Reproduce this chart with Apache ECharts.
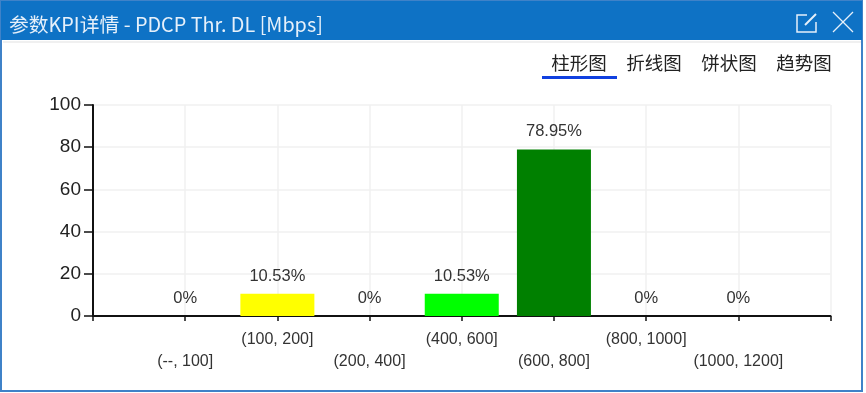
<!DOCTYPE html>
<html>
<head>
<meta charset="utf-8">
<style>
html, body { margin: 0; padding: 0; background: #fff; }
#chart { width: 866px; height: 393px; }
</style>
<script src="https://cdn.jsdelivr.net/npm/echarts@6/dist/echarts.min.js"></script>
</head>
<body>
<div id="chart"></div>
<script>
const titleText = '参数KPI详情 - PDCP Thr. DL [Mbps]';
const tabs = ['柱形图', '折线图', '饼状图', '趋势图'];
// blank first and last entries leave the half-band gaps at both ends of the axis
const categories = ['', '(--, 100]', '(100, 200]', '(200, 400]', '(400, 600]', '(600, 800]', '(800, 1000]', '(1000, 1200]', ''];
const percents = [null, 0, 10.53, 0, 10.53, 78.95, 0, 0, null];
const barColors = ['#fff', '#fff', '#ffff00', '#fff', '#00ff00', '#008000', '#fff', '#fff', '#fff'];
const yTicks = [0, 20, 40, 60, 80, 100];

const cjkFont = '"Noto Sans CJK SC", "Liberation Sans", sans-serif';
const tabX = [579, 654, 729, 804];

const chart = echarts.init(document.getElementById('chart'), null, { renderer: 'canvas' });

chart.setOption({
    animation: false,
    backgroundColor: '#fff',
    grid: { left: 93, right: 35.5, top: 105, bottom: 77 },
    xAxis: {
        type: 'category',
        data: categories,
        boundaryGap: false,
        axisLine: { lineStyle: { color: '#111', width: 2 } },
        axisTick: { show: true, alignWithLabel: true, length: 5, lineStyle: { color: '#111', width: 1.5 } },
        splitLine: { show: true, lineStyle: { color: '#f0f0f0', width: 1.5 } },
        axisLabel: {
            interval: 0,
            color: '#333',
            fontFamily: 'Liberation Sans',
            fontSize: 16,
            lineHeight: 22,
            margin: 13,
            // every other label sits on a second row
            formatter: (value, index) => (index % 2 === 1 ? '\n' + value : value)
        }
    },
    yAxis: {
        type: 'value',
        min: 0,
        max: 100,
        interval: 20,
        axisLine: { show: true, lineStyle: { color: '#111', width: 2 } },
        axisTick: { show: true, length: 9, lineStyle: { color: '#111', width: 1.5 } },
        splitLine: { show: true, lineStyle: { color: '#f0f0f0', width: 1.5 } },
        axisLabel: {
            color: '#222',
            fontFamily: 'Liberation Sans',
            fontSize: 19,
            margin: 12,
            padding: [6, 0, 0, 0],
            formatter: (value) => (yTicks.includes(value) ? String(value) : '')
        }
    },
    series: [
        {
            type: 'bar',
            barWidth: 74,
            barGap: 0,
            data: percents.map((v, i) => ({ value: v, itemStyle: { color: barColors[i] } })),
            label: {
                show: true,
                position: 'top',
                distance: 9,
                color: '#333',
                fontFamily: 'Liberation Sans',
                fontSize: 16.5,
                formatter: (p) => p.value + '%'
            }
        }
    ],
    graphic: [
        // window frame
        { type: 'rect', z: 0, silent: true, shape: { x: 1, y: 1, width: 861, height: 390 },
          style: { fill: 'none', stroke: '#3f82c8', lineWidth: 2 } },
        { type: 'rect', z: 1, silent: true, shape: { x: 1, y: 1, width: 861, height: 39 },
          style: { fill: '#0e72c5' } },
        { type: 'rect', z: 1, silent: true, shape: { x: 3, y: 41, width: 858, height: 2 },
          style: { fill: '#f0f0f0' } },
        { type: 'text', z: 2, silent: true, x: 9, y: 24,
          style: { text: titleText, fill: '#e6f0fa', font: '19.8px ' + cjkFont, textVerticalAlign: 'middle' } },
        // edit icon
        { type: 'polyline', z: 2, silent: true,
          shape: { points: [[807, 15], [797, 15], [797, 32], [816, 32], [816, 22]] },
          style: { fill: 'none', stroke: '#e6f0fa', lineWidth: 1.5 } },
        { type: 'line', z: 2, silent: true, shape: { x1: 805, y1: 25, x2: 816, y2: 14 },
          style: { stroke: '#e6f0fa', lineWidth: 2 } },
        // close icon
        { type: 'line', z: 2, silent: true, shape: { x1: 833, y1: 12, x2: 853, y2: 32 },
          style: { stroke: '#e6f0fa', lineWidth: 1.3 } },
        { type: 'line', z: 2, silent: true, shape: { x1: 853, y1: 12, x2: 833, y2: 32 },
          style: { stroke: '#e6f0fa', lineWidth: 1.3 } },
        // tabs
        ...tabs.map((t, i) => ({
            type: 'text', z: 2, silent: true, x: tabX[i], y: 63,
            style: { text: t, fill: '#222', font: '18.5px ' + cjkFont, textAlign: 'center', textVerticalAlign: 'middle' }
        })),
        { type: 'rect', z: 2, silent: true, shape: { x: 542, y: 76, width: 75, height: 3 },
          style: { fill: '#1040e0' } }
    ]
});
</script>
</body>
</html>
